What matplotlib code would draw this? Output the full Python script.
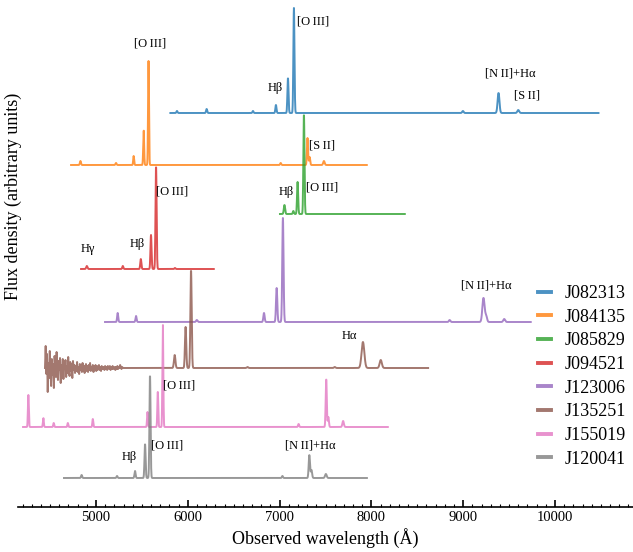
import numpy as np
import matplotlib
matplotlib.use('Agg')
import matplotlib.pyplot as plt
from matplotlib.ticker import MultipleLocator

plt.rcParams['font.family'] = ['Liberation Serif', 'DejaVu Serif']

names = ['J082313', 'J084135', 'J085829', 'J094521',
         'J123006', 'J135251', 'J155019', 'J120041']
colors = ['tab:blue', 'tab:orange', 'tab:green', 'tab:red',
          'tab:purple', 'tab:brown', 'tab:pink', 'tab:gray']

# each spectrum: coverage (A), vertical offset, emission lines (centre, peak, sigma)
j082313_span = (5810, 10475)
j082313_level = 394
j082313_wave = [5882, 6205, 6710, 6960, 7091, 7156, 8997, 9385, 9600]
j082313_peak = [2, 4, 2, 8, 35, 105, 2, 20, 3]
j082313_sigma = [6, 6, 6, 6, 6, 6, 8, 10, 10]

j084135_span = (4728, 7951)
j084135_level = 342
j084135_wave = [4830, 5218, 5410, 5519, 5572, 7012, 7304, 7327, 7483]
j084135_peak = [4, 2, 9, 35, 104, 2, 27, 8, 4]
j084135_sigma = [6, 6, 5, 5, 5, 6, 6, 6, 8]

j085829_span = (7004, 8365)
j085829_level = 293
j085829_wave = [7053, 7150, 7196, 7265]
j085829_peak = [9, 3, 32, 100]
j085829_sigma = [7, 6, 6, 6]

j094521_span = (4837, 6285)
j094521_level = 238
j094521_wave = [4900, 5292, 5488, 5599, 5654, 5860]
j094521_peak = [3, 3, 10, 34, 103, 1]
j094521_sigma = [7, 6, 6, 6, 6, 6]

j123006_span = (5098, 9737)
j123006_level = 185
j123006_wave = [5236, 5436, 6098, 6830, 6968, 7036, 8852, 9221, 9250, 9447]
j123006_peak = [9, 6, 2, 9, 34, 104, 2, 24, 6, 3]
j123006_sigma = [6, 6, 8, 7, 7, 7, 8, 12, 10, 10]

j135251_span = (5310, 8620)
j135251_level = 139
j135251_wave = [5857, 5976, 6035, 6650, 7600, 7908, 8102]
j135251_peak = [13, 41, 98, 1, 1, 26, 8]
j135251_sigma = [8, 7, 7, 8, 8, 15, 12]
# noisy blue end of J135251, 4444-5300 A (offsets from its continuum)
j135251_noise_flux = [0, 22, -6, 14, -24, 5, -10, 17, -3, -18, 9, -7, 4, -20, 12,
                      2, -9, 16, -4, -12, 7, -2, 10, -15, 3, -6, 9, -11, 5, -1,
                      8, -9, 2, -5, 11, -4, -8, 6, -3, 4, -10, 7, -2,
                      3, -5, 2, -3, 6, -4, 1, -6, 4, -2, 3, -4, 5, -3, 2,
                      -5, 1, 4, -3, 2, -4, 3, -2, 5, -3, 1, -2, 3, -4, 2,
                      -1, 3, -3, 2, -2, 1, 3, -2, 1, -3, 2, -1, 1,
                      1, -2, 2, -1, 1, -2, 2, 0, -1, 2, -2, 1, -1, 2, -1,
                      0, 1, -2, 1, -1, 2, -1, 1, 0, 3, 1, -1, 1, 0, 0]
j135251_noise_span = (4444, 5300)

j155019_span = (4205, 8180)
j155019_level = 80
j155019_wave = [4263, 4426, 4539, 4693, 4965, 5561, 5673, 5728, 7207, 7508, 7531, 7692]
j155019_peak = [32, 9, 4, 4, 8, 15, 35, 104, 3, 48, 10, 6]
j155019_sigma = [5, 5, 5, 5, 5, 5, 5, 5, 6, 6, 6, 8]

j120041_span = (4651, 7952)
j120041_level = 29
j120041_wave = [4843, 5229, 5425, 5534, 5588, 7031, 7324, 7347, 7504]
j120041_peak = [3, 2, 7, 34, 103, 2, 23, 8, 4]
j120041_sigma = [6, 6, 6, 6, 6, 6, 7, 7, 9]

# line labels
label_text = ['[O\u2009III]', 'H\u03b2', '[N\u2009II]+H\u03b1', '[S\u2009II]',
              '[O\u2009III]', '[S\u2009II]',
              'H\u03b2', '[O\u2009III]',
              'H\u03b3', 'H\u03b2', '[O\u2009III]',
              '[N\u2009II]+H\u03b1', 'H\u03b1', '[O\u2009III]',
              'H\u03b2', '[O\u2009III]', '[N\u2009II]+H\u03b1']
label_wave = [7363, 6950, 9510, 9695,
              5588, 7461,
              7069, 7462,
              4913, 5447, 5828,
              9248, 7756, 5904,
              5359, 5773, 7331]
label_y = [485, 419, 433, 411,
           463, 362,
           315, 319,
           258, 263, 316,
           222, 171, 122,
           50, 62, 62]


def build(span, level, wave, peak, sigma):
    grid = np.arange(span[0], span[1], 2.0)
    flux = np.full(grid.shape, float(level))
    for c, h, s in zip(wave, peak, sigma):
        flux += h * np.exp(-0.5 * ((grid - c) / s) ** 2)
    return grid, flux


spectra = [
    build(j082313_span, j082313_level, j082313_wave, j082313_peak, j082313_sigma),
    build(j084135_span, j084135_level, j084135_wave, j084135_peak, j084135_sigma),
    build(j085829_span, j085829_level, j085829_wave, j085829_peak, j085829_sigma),
    build(j094521_span, j094521_level, j094521_wave, j094521_peak, j094521_sigma),
    build(j123006_span, j123006_level, j123006_wave, j123006_peak, j123006_sigma),
    build(j135251_span, j135251_level, j135251_wave, j135251_peak, j135251_sigma),
    build(j155019_span, j155019_level, j155019_wave, j155019_peak, j155019_sigma),
    build(j120041_span, j120041_level, j120041_wave, j120041_peak, j120041_sigma),
]
# prepend the noisy blue part of J135251
noise_wave = np.linspace(*j135251_noise_span, len(j135251_noise_flux))
w, f = spectra[5]
spectra[5] = (np.concatenate([noise_wave, w]),
              np.concatenate([j135251_level + np.array(j135251_noise_flux, float), f]))

fig = plt.figure(figsize=(6.33, 5.52), dpi=100)
ax = fig.add_axes([18 / 633, 45 / 552, 615 / 633, 507 / 552])

for (w, f), name, c in zip(spectra, names, colors):
    ax.plot(w, f, color=c, lw=1.4, alpha=0.8, label=name)

for t, x, y in zip(label_text, label_wave, label_y):
    ax.text(x, y, t, ha='center', va='center', fontsize=9)

ax.set_xlim(4150, 10850)
ax.set_ylim(0, 507)
for side in ['left', 'top', 'right']:
    ax.spines[side].set_visible(False)
ax.spines['bottom'].set_linewidth(1.2)
ax.set_yticks([])
ax.xaxis.set_major_locator(MultipleLocator(1000))
ax.xaxis.set_minor_locator(MultipleLocator(100))
ax.tick_params(axis='x', which='major', direction='in', length=5, width=1.2,
               labelsize=10.5, pad=3)
ax.tick_params(axis='x', which='minor', direction='in', length=2.5, width=0.8)
ax.set_xlabel('Observed wavelength (\u00c5)', fontsize=13, labelpad=3)
fig.text(13 / 633, 1 - 196 / 552, 'Flux density (arbitrary units)',
         rotation=90, ha='center', va='center', fontsize=13)

leg = ax.legend(loc='upper left', bbox_to_anchor=(538 / 633, 1 - 285 / 552),
                bbox_transform=fig.transFigure, frameon=False, fontsize=13,
                borderpad=0, borderaxespad=0, handlelength=0.7,
                handletextpad=0.75, labelspacing=0.37)
for line in leg.get_lines():
    line.set_linewidth(2.8)

fig.savefig('out.png', dpi=100)
